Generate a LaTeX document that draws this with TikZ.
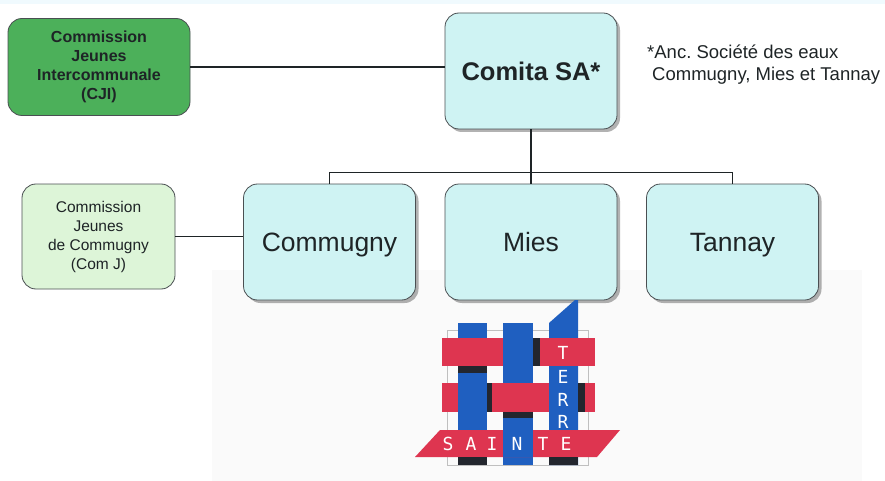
\documentclass[tikz,border=0pt]{standalone}
\usepackage{fontspec}
\setmainfont{Liberation Sans}
\newfontfamily\logofont{DejaVu Sans Mono}
\usetikzlibrary{shadows}
\definecolor{cjigreen}{HTML}{4CB05A}
\definecolor{comjgreen}{HTML}{DDF5D8}
\definecolor{boxcyan}{HTML}{CFF3F3}
\definecolor{boxline}{HTML}{4A4F52}
\definecolor{boxtext}{HTML}{1E2426}
\definecolor{logoblue}{HTML}{1F5FC0}
\definecolor{logored}{HTML}{DE3550}
\definecolor{logodark}{HTML}{23262E}

\begin{document}
\begin{tikzpicture}[x=1pt,y=-1pt,
  box/.style={draw=boxline,line width=0.8pt,rounded corners=14pt,text=boxtext,align=center,inner sep=0},
  commune/.style={box,fill=boxcyan,minimum width=172pt,minimum height=116pt,
    font=\fontsize{26.5}{30}\selectfont,text height=19pt,text depth=0pt,
    drop shadow={shadow xshift=3pt,shadow yshift=-3pt,fill=black,opacity=.3}},
  link/.style={draw=boxtext,line width=1.2pt},
  letter/.style={text=white,font=\logofont\fontsize{18}{18}\selectfont,inner sep=0}]
  \useasboundingbox (0,0) rectangle (885,481);
  \fill[cyan!6] (0,0) rectangle (885,4);
  \fill[gray!4] (212,270) rectangle (862,481);

  \node[box,fill=cjigreen,minimum width=182pt,minimum height=97pt,
    font=\bfseries\fontsize{16}{19}\selectfont] (cji) at (99,67)
    {Commission\\Jeunes\\Intercommunale\\(CJI)};
  \node[box,fill=comjgreen,minimum width=153pt,minimum height=105pt,
    font=\fontsize{15.5}{19}\selectfont] (comj) at (98.5,236.5)
    {Commission\\Jeunes\\de Commugny\\(Com J)};
  \node[commune,font=\bfseries\fontsize{25.5}{30}\selectfont] (comita) at (531,71) {Comita SA*};
  \foreach \name/\x in {Commugny/329.5,Mies/531,Tannay/732.5}
    \node[commune] (\name) at (\x,242) {\name};

  \node[anchor=base west,inner sep=0,text=boxtext,font=\fontsize{18.5}{22}\selectfont] (note1) at (647,59) {*Anc.\ Société des eaux};
  \node[anchor=base west,inner sep=0,text=boxtext,font=\fontsize{18.5}{22}\selectfont] (note2) at (652,81) {Commugny, Mies et Tannay};

  \draw[link] (cji.east) -- (cji.east -| comita.west);
  \draw[link] (comj.east) -- (comj.east -| Commugny.west);
  \draw[link] (comita.south) -- (Mies.north);
  \draw[link,line width=1.8pt] (Commugny.north) -- ++(0,-11) -| (Tannay.north);

  \draw[gray!50,line width=0.4pt] (447,330) rectangle (588,465);
  \fill[logoblue] (458,323) rectangle (487,465);
  \fill[logoblue] (503,323) rectangle (533,465);
  \fill[logoblue] (549,465) -- (549,323) -- (575,300) -- (578,300) -- (578,465) -- cycle;
  \fill[logored] (442,338) rectangle (595,366);
  \fill[logored] (442,383) rectangle (595,412);
  \fill[logored] (415,457) -- (440,430) -- (620,430) -- (597,457) -- cycle;
  \fill[logoblue] (503,338) rectangle (533,366);
  \fill[logoblue] (458,383) rectangle (487,412);
  \fill[logoblue] (549,383) rectangle (578,412);
  \fill[logoblue] (503,430) rectangle (533,457);
  \foreach \xa/\ya/\xb/\yb in {458/366/487/373,533/338/540/366,487/383/492/412,
      503/412/533/418,578/383/585/412,458/457/487/465,549/457/578/465}
    \fill[logodark] (\xa,\ya) rectangle (\xb,\yb);
  \foreach \c/\x [count=\i] in {S/448,A/471,I/492,N/517,T/543,E/566}
    \node[letter] (sainte\i) at (\x,444) {\c};
  \foreach \c/\y [count=\i] in {T/353,E/377,R/400,R/422}
    \node[letter] (terre\i) at (563,\y) {\c};
\end{tikzpicture}
\end{document}
